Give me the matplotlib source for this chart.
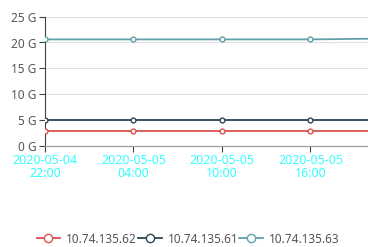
import matplotlib
matplotlib.use('Agg')
import matplotlib.pyplot as plt
import matplotlib.dates as mdates
import pandas as pd

# data (GB)
times = pd.to_datetime(["2020-05-04 22:00", "2020-05-05 04:00", "2020-05-05 10:00",
                        "2020-05-05 16:00", "2020-05-05 22:00"])
names = ["10.74.135.62", "10.74.135.61", "10.74.135.63"]
host62 = [2.9, 2.9, 2.9, 2.9, 2.9]
host61 = [5.05, 5.05, 5.05, 5.05, 5.05]
host63 = [20.6, 20.6, 20.6, 20.6, 20.8]
colors = ["#d9534f", "#2f4554", "#61a0a8"]
y_ticks = [0, 5, 10, 15, 20, 25]

plt.rcParams['font.family'] = ['Noto Sans', 'DejaVu Sans']

fig = plt.figure(figsize=(3.68, 2.47), dpi=100)
ax = fig.add_axes([45 / 368, 1 - 145.7 / 247, 323 / 368, (145.7 - 16.7) / 247])

for vals, name, c in zip([host62, host61, host63], names, colors):
    ax.plot(times, vals, color=c, lw=1.3, marker='o', ms=3.5, mfc='white',
            mec=c, mew=1.0, label=name, zorder=3)

ax.set_ylim(0, 25)
ax.set_yticks(y_ticks)
ax.set_yticklabels([f"{v} G" for v in y_ticks])
ax.grid(axis='y', color='#e0e0e0', lw=0.8)
ax.set_axisbelow(True)

x0 = times[0]
ax.set_xlim(x0, x0 + pd.Timedelta(hours=6 * 323 / 88.5))
ax.set_xticks(times[:4])
ax.xaxis.set_major_formatter(mdates.DateFormatter("%Y-%m-%d\n%H:%M"))

for s in ['top', 'right']:
    ax.spines[s].set_visible(False)
ax.spines['left'].set_color('#444444')
ax.spines['bottom'].set_color('#999999')
ax.tick_params(axis='y', length=4, color='#444444', labelcolor='#555555',
               labelsize=8.5, pad=2)
ax.tick_params(axis='x', length=4, color='#444444', labelcolor='#33ffff',
               labelsize=9, pad=2)
for lab in ax.get_xticklabels():
    lab.set_linespacing(0.95)

fig.legend(loc='center', bbox_to_anchor=(0.511, 0.032), ncol=3, frameon=False,
           fontsize=8.5, handlelength=2.0, handletextpad=0.5, columnspacing=0.1,
           labelcolor='#555555', markerscale=1.7)

fig.savefig("out.png", dpi=100)
